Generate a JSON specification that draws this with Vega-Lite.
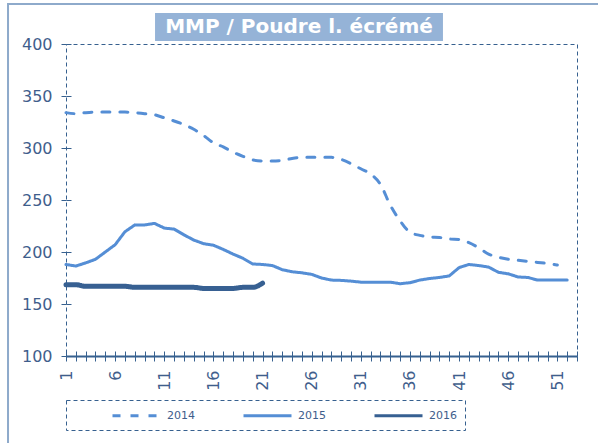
{
  "$schema": "https://vega.github.io/schema/vega-lite/v6.json",
  "width": 511,
  "height": 312,
  "autosize": {"type": "none"},
  "padding": {"left": 66, "top": 44, "right": 21, "bottom": 87},
  "background": "white",
  "datasets": {
    "prices": [
      {"w":1,"y":"2014","v":334},{"w":2,"y":"2014","v":333},{"w":3,"y":"2014","v":334},{"w":4,"y":"2014","v":334.5},{"w":5,"y":"2014","v":334.5},{"w":6,"y":"2014","v":334.5},{"w":7,"y":"2014","v":334.5},{"w":8,"y":"2014","v":334},{"w":9,"y":"2014","v":333},{"w":10,"y":"2014","v":332},
      {"w":11,"y":"2014","v":329},{"w":12,"y":"2014","v":326},{"w":13,"y":"2014","v":322.5},{"w":14,"y":"2014","v":318},{"w":15,"y":"2014","v":312},{"w":16,"y":"2014","v":305},{"w":17,"y":"2014","v":301},{"w":18,"y":"2014","v":296},{"w":19,"y":"2014","v":292},{"w":20,"y":"2014","v":288.5},
      {"w":21,"y":"2014","v":287.5},{"w":22,"y":"2014","v":287.5},{"w":23,"y":"2014","v":288},{"w":24,"y":"2014","v":290},{"w":25,"y":"2014","v":291},{"w":26,"y":"2014","v":291},{"w":27,"y":"2014","v":291},{"w":28,"y":"2014","v":291},{"w":29,"y":"2014","v":289},{"w":30,"y":"2014","v":285},
      {"w":31,"y":"2014","v":280},{"w":32,"y":"2014","v":275},{"w":33,"y":"2014","v":265},{"w":34,"y":"2014","v":245},{"w":35,"y":"2014","v":230},{"w":36,"y":"2014","v":219},{"w":37,"y":"2014","v":216},{"w":38,"y":"2014","v":214.5},{"w":39,"y":"2014","v":214},{"w":40,"y":"2014","v":212.5},
      {"w":41,"y":"2014","v":212},{"w":42,"y":"2014","v":209},{"w":43,"y":"2014","v":204},{"w":44,"y":"2014","v":198},{"w":45,"y":"2014","v":195},{"w":46,"y":"2014","v":193},{"w":47,"y":"2014","v":192},{"w":48,"y":"2014","v":191},{"w":49,"y":"2014","v":190},{"w":50,"y":"2014","v":189},{"w":51,"y":"2014","v":187.5},
      {"w":1,"y":"2015","v":188},{"w":2,"y":"2015","v":186.5},{"w":3,"y":"2015","v":189.5},{"w":4,"y":"2015","v":193},{"w":5,"y":"2015","v":200},{"w":6,"y":"2015","v":207},{"w":7,"y":"2015","v":219.5},{"w":8,"y":"2015","v":226},{"w":9,"y":"2015","v":226},{"w":10,"y":"2015","v":227.5},
      {"w":11,"y":"2015","v":223},{"w":12,"y":"2015","v":222},{"w":13,"y":"2015","v":216.5},{"w":14,"y":"2015","v":211.5},{"w":15,"y":"2015","v":208},{"w":16,"y":"2015","v":206.5},{"w":17,"y":"2015","v":202.5},{"w":18,"y":"2015","v":198},{"w":19,"y":"2015","v":194},{"w":20,"y":"2015","v":188.5},
      {"w":21,"y":"2015","v":188},{"w":22,"y":"2015","v":187},{"w":23,"y":"2015","v":183},{"w":24,"y":"2015","v":181},{"w":25,"y":"2015","v":180},{"w":26,"y":"2015","v":178.5},{"w":27,"y":"2015","v":175},{"w":28,"y":"2015","v":173},{"w":29,"y":"2015","v":172.7},{"w":30,"y":"2015","v":172},
      {"w":31,"y":"2015","v":171},{"w":32,"y":"2015","v":171},{"w":33,"y":"2015","v":171},{"w":34,"y":"2015","v":171},{"w":35,"y":"2015","v":169.5},{"w":36,"y":"2015","v":170.5},{"w":37,"y":"2015","v":173},{"w":38,"y":"2015","v":174.5},{"w":39,"y":"2015","v":175.5},{"w":40,"y":"2015","v":177},
      {"w":41,"y":"2015","v":185},{"w":42,"y":"2015","v":188},{"w":43,"y":"2015","v":187},{"w":44,"y":"2015","v":185.5},{"w":45,"y":"2015","v":180.5},{"w":46,"y":"2015","v":179},{"w":47,"y":"2015","v":176},{"w":48,"y":"2015","v":175.5},{"w":49,"y":"2015","v":173},{"w":50,"y":"2015","v":173},{"w":51,"y":"2015","v":173},{"w":52,"y":"2015","v":173},
      {"w":1,"y":"2016","v":168.5},{"w":2,"y":"2016","v":168.5},{"w":3,"y":"2016","v":167},{"w":4,"y":"2016","v":167},{"w":5,"y":"2016","v":167},{"w":6,"y":"2016","v":167},{"w":7,"y":"2016","v":167},{"w":8,"y":"2016","v":166},{"w":9,"y":"2016","v":166},{"w":10,"y":"2016","v":166},
      {"w":11,"y":"2016","v":166},{"w":12,"y":"2016","v":166},{"w":13,"y":"2016","v":166},{"w":14,"y":"2016","v":166},{"w":15,"y":"2016","v":165},{"w":16,"y":"2016","v":165},{"w":17,"y":"2016","v":165},{"w":18,"y":"2016","v":165},{"w":19,"y":"2016","v":166},{"w":20,"y":"2016","v":166},{"w":21,"y":"2016","v":170}
    ]
  },
  "resolve": {"axis": {"x": "independent", "y": "independent"}},
  "layer": [
    {
      "data": {"values": [{"frame": 1}]},
      "mark": {"type": "rect", "fillOpacity": 0, "stroke": "#8eaacb", "strokeWidth": 2, "clip": false},
      "encoding": {
        "x": {"datum": -4.9, "type": "quantitative", "scale": {"domain": [1, 53], "nice": false, "zero": false},
          "axis": {"orient": "bottom", "offset": -5, "values": [1,2,3,4,5,6,7,8,9,10,11,12,13,14,15,16,17,18,19,20,21,22,23,24,25,26,27,28,29,30,31,32,33,34,35,36,37,38,39,40,41,42,43,44,45,46,47,48,49,50,51,52,53], "tickSize": 5, "tickColor": "#36608f", "domain": false, "labels": false, "grid": false, "title": null}},
        "x2": {"datum": 65},
        "y": {"datum": 438.5, "type": "quantitative", "scale": {"domain": [100, 400], "nice": false, "zero": false},
          "axis": {"orient": "left", "offset": -5, "values": [150, 200, 250, 300, 350, 400], "tickSize": 5, "tickColor": "#36608f", "domain": false, "labels": false, "grid": false, "title": null}},
        "y2": {"datum": 0}
      }
    },
    {
      "data": {"values": [{"box": 1}]},
      "mark": {"type": "rect", "fill": "#95b3d7", "clip": false},
      "encoding": {
        "x": {"datum": 10.06, "type": "quantitative", "axis": null},
        "x2": {"datum": 39.36},
        "y": {"datum": 429.8, "type": "quantitative", "axis": null},
        "y2": {"datum": 402.9}
      }
    },
    {
      "data": {"values": [{"t": "MMP / Poudre l. écrémé"}]},
      "mark": {"type": "text", "font": "DejaVu Sans", "fontWeight": "bold", "fontSize": 20, "color": "white", "align": "center", "baseline": "middle", "clip": false},
      "encoding": {
        "x": {"datum": 24.71, "type": "quantitative", "axis": null},
        "y": {"datum": 416.3, "type": "quantitative", "axis": null},
        "text": {"field": "t"}
      }
    },
    {
      "data": {"name": "prices"},
      "transform": [{"filter": "datum.y == '2014'"}],
      "mark": {"type": "line", "interpolate": "monotone", "strokeWidth": 3, "strokeCap": "round", "strokeJoin": "round"},
      "encoding": {
        "x": {"field": "w", "type": "quantitative", "axis": null},
        "y": {"field": "v", "type": "quantitative", "axis": null},
        "color": {"field": "y", "type": "nominal", "scale": {"domain": ["2014", "2015", "2016"], "range": ["#558ed5", "#558ed5", "#376092"]},
          "legend": {"orient": "none", "legendX": 0, "legendY": 356, "direction": "horizontal", "title": null, "labelExpr": "datum.label == '2016' ? '2016\u00a0\u00a0\u00a0\u00a0\u00a0\u00a0\u00a0\u00a0\u00a0' : datum.label"}},
        "strokeDash": {"field": "y", "type": "nominal", "scale": {"domain": ["2014", "2015", "2016"], "range": [[8, 10], [1, 0], [1, 0]]},
          "legend": {"orient": "none", "legendX": 0, "legendY": 356, "direction": "horizontal", "title": null, "labelExpr": "datum.label == '2016' ? '2016\u00a0\u00a0\u00a0\u00a0\u00a0\u00a0\u00a0\u00a0\u00a0' : datum.label"}}
      }
    },
    {
      "data": {"name": "prices"},
      "transform": [{"filter": "datum.y == '2015'"}],
      "mark": {"type": "line", "interpolate": "linear", "strokeWidth": 3, "strokeCap": "round", "strokeJoin": "round"},
      "encoding": {
        "x": {"field": "w", "type": "quantitative", "axis": null},
        "y": {"field": "v", "type": "quantitative", "axis": null},
        "color": {"field": "y", "type": "nominal"},
        "strokeDash": {"field": "y", "type": "nominal"}
      }
    },
    {
      "data": {"name": "prices"},
      "transform": [{"filter": "datum.y == '2016'"}],
      "mark": {"type": "line", "interpolate": "monotone", "strokeWidth": 5, "strokeCap": "round", "strokeJoin": "round"},
      "encoding": {
        "x": {"field": "w", "type": "quantitative",
          "axis": {"orient": "bottom", "values": [1,2,3,4,5,6,7,8,9,10,11,12,13,14,15,16,17,18,19,20,21,22,23,24,25,26,27,28,29,30,31,32,33,34,35,36,37,38,39,40,41,42,43,44,45,46,47,48,49,50,51,52,53],
            "labelExpr": "(datum.value - 1) % 5 == 0 && datum.value < 53 ? datum.value : ''", "labelAngle": -90, "labelFlush": false, "labelOverlap": false, "labelBound": false,
            "tickSize": 5, "tickColor": "#36608f", "domainColor": "#36608f", "domainWidth": 2, "labelPadding": 9, "grid": false, "title": null}},
        "y": {"field": "v", "type": "quantitative",
          "axis": {"orient": "left", "values": [100, 150, 200, 250, 300, 350, 400], "tickSize": 5, "tickColor": "#36608f", "domain": false, "labelPadding": 9, "labelFlush": false, "labelOverlap": false, "grid": false, "title": null}},
        "color": {"field": "y", "type": "nominal"},
        "strokeDash": {"field": "y", "type": "nominal"}
      }
    }
  ],
  "config": {
    "font": "DejaVu Sans",
    "view": {"stroke": "#36608f", "strokeDash": [4, 3], "strokeWidth": 1},
    "axis": {"labelFont": "DejaVu Sans", "labelFontSize": 16, "labelColor": "#3f5e8c"},
    "legend": {
      "strokeColor": "#36608f", "strokeDash": [4, 3], "padding": 8,
      "symbolType": "M-4,0H4", "symbolSize": 144, "symbolStrokeWidth": 3, "symbolOffset": 55,
      "labelOffset": 23, "columnPadding": 10, "labelFont": "DejaVu Sans", "labelFontSize": 11, "labelColor": "#3f5e8c"
    }
  }
}
